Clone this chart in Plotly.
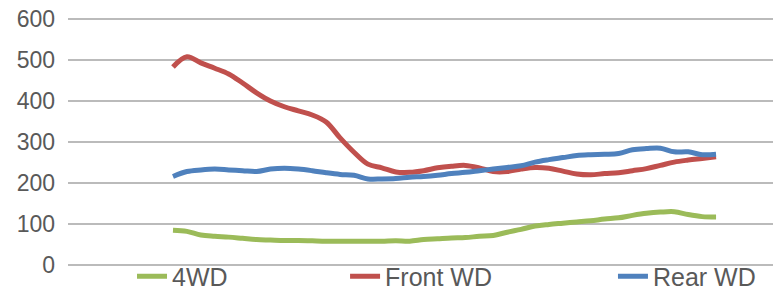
import plotly.graph_objects as go

# Category index (unlabelled x positions)
idx = list(range(40))

four_wd = [85, 82, 73, 70, 68, 65, 62, 61, 60, 60, 59, 58, 58, 58, 58, 58, 59, 58, 62, 64,
           66, 67, 70, 72, 80, 87, 95, 99, 102, 105, 108, 112, 115, 121, 126, 129, 130, 123, 118, 117]
front_wd = [483, 508, 493, 480, 466, 444, 420, 400, 386, 376, 366, 349, 310, 275, 246, 237, 227, 226, 230, 237,
            241, 243, 237, 228, 228, 234, 238, 236, 229, 222, 220, 223, 225, 230, 235, 243, 251, 256, 260, 264]
rear_wd = [216, 228, 232, 234, 232, 230, 228, 234, 236, 234, 230, 225, 221, 219, 210, 210, 211, 214, 216, 219,
           223, 226, 230, 234, 238, 242, 251, 257, 262, 267, 269, 270, 272, 281, 284, 285, 276, 276, 269, 270]

y_ticks = [0, 100, 200, 300, 400, 500, 600]

FONT = "Liberation Sans, Arial, sans-serif"
TXT = "#595959"

fig = go.Figure()
fig.add_trace(go.Scatter(x=idx, y=four_wd, name="4WD", mode="lines",
                         line=dict(color="#9BBB59", width=5, shape="spline"), legend="legend"))
fig.add_trace(go.Scatter(x=idx, y=front_wd, name="Front WD", mode="lines",
                         line=dict(color="#C0504D", width=5, shape="spline"), legend="legend2"))
fig.add_trace(go.Scatter(x=idx, y=rear_wd, name="Rear WD", mode="lines",
                         line=dict(color="#4F81BD", width=5, shape="spline"), legend="legend3"))

leg_common = dict(orientation="h", yanchor="middle", y=-0.047, xanchor="left",
                  font=dict(family=FONT, size=25, color=TXT), bgcolor="rgba(0,0,0,0)",
                  itemwidth=30, tracegroupgap=0, borderwidth=0)

fig.update_layout(
    width=773, height=293,
    margin=dict(l=68, r=0, t=18, b=28, autoexpand=False),
    paper_bgcolor="white", plot_bgcolor="white",
    showlegend=True,
    legend=dict(x=0.0908, **leg_common),
    legend2=dict(x=0.393, **leg_common),
    legend3=dict(x=0.773, **leg_common),
    xaxis=dict(range=[-7.54, 43.09], showgrid=False, zeroline=False, showticklabels=False,
               showline=False, ticks=""),
    yaxis=dict(range=[0, 602.5], tickvals=y_ticks, showgrid=True, gridcolor="#BBBBBB", gridwidth=2,
               zeroline=True, zerolinecolor="#BBBBBB", zerolinewidth=2, showline=False,
               tickfont=dict(family=FONT, size=23, color=TXT), ticklabelstandoff=12),
)

fig.write_html("out.html", config={"displayModeBar": False},
               post_script="document.body.style.margin='0';")
